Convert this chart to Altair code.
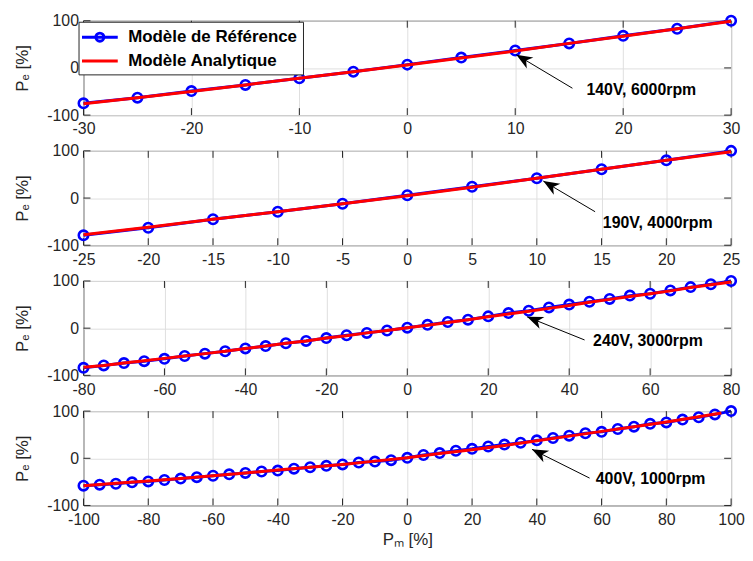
import math
import altair as alt
import pandas as pd

BLUE = "#0000FF"
RED = "#FF0000"
INK = "#262626"
GRID = "#DFDFDF"
FONT = "Liberation Sans"
REF = "Modèle de Référence"
ANA = "Modèle Analytique"

W, H = 652, 95
TICK_PX = 7
Y_DOMAIN = [-100, 100]
y_ticks = [-100, 0, 100]

# ---- Panel 1 : 140V, 6000rpm
p1_domain = [-30, 30]
p1_ticks = [-30, -20, -10, 0, 10, 20, 30]
p1_x = [-30, -25, -20, -15, -10, -5, 0, 5, 10, 15, 20, 25, 30]
p1_ref = [-75, -63, -49, -36, -22, -8, 7, 22, 37, 52, 68, 83, 100]
p1_ana_x = [-30, -25, -20, -15, -10, -5, 0, 5, 10, 15, 20, 25, 30]
p1_ana = [-76, -63, -50, -36, -22, -8, 6, 21, 36, 52, 67, 83, 99]

# ---- Panel 2 : 190V, 4000rpm
p2_domain = [-25, 25]
p2_ticks = [-25, -20, -15, -10, -5, 0, 5, 10, 15, 20, 25]
p2_x = [-25, -20, -15, -10, -5, 0, 5, 10, 15, 20, 25]
p2_ref = [-79, -63, -45, -29, -12, 6, 24, 42, 61, 80, 100]
p2_ana_x = [-25, -20, -15, -10, -5, 0, 5, 10, 15, 20, 25]
p2_ana = [-78, -62, -45, -29, -12, 5, 23, 42, 61, 80, 98]

# ---- Panel 3 : 240V, 3000rpm
p3_domain = [-80, 80]
p3_ticks = [-80, -60, -40, -20, 0, 20, 40, 60, 80]
p3_x = [-80, -75, -70, -65, -60, -55, -50, -45, -40, -35, -30, -25, -20, -15, -10, -5,
        0, 5, 10, 15, 20, 25, 30, 35, 40, 45, 50, 55, 60, 65, 70, 75, 80]
p3_ref = [-84, -79, -74, -70, -65, -59, -54, -49, -43, -38, -32, -27, -21, -15, -10, -5,
          1, 7, 13, 18, 25, 32, 37, 44, 50, 56, 62, 69, 73, 80, 87, 93, 100]
p3_ana_x = [-80, -75, -70, -65, -60, -55, -50, -45, -40, -35, -30, -25, -20, -15, -10, -5,
            0, 5, 10, 15, 20, 25, 30, 35, 40, 45, 50, 55, 60, 65, 70, 75, 80]
p3_ana = [-83, -79, -74, -69, -64, -59, -54, -49, -43, -38, -32, -27, -21, -16, -10, -5,
          1, 6, 12, 18, 24, 30, 36, 42, 48, 55, 61, 67, 73, 79, 86, 92, 98]

# ---- Panel 4 : 400V, 1000rpm
p4_domain = [-100, 100]
p4_ticks = [-100, -80, -60, -40, -20, 0, 20, 40, 60, 80, 100]
p4_x = [-100, -95, -90, -85, -80, -75, -70, -65, -60, -55, -50, -45, -40, -35, -30, -25,
        -20, -15, -10, -5, 0, 5, 10, 15, 20, 25, 30, 35, 40, 45, 50, 55, 60, 65, 70, 75,
        80, 85, 90, 95, 100]
p4_ref = [-58, -56, -54, -51, -49, -46, -43, -40, -37, -34, -31, -28, -26, -22, -19, -16,
          -13, -9, -7, -4, 1, 7, 11, 16, 20, 25, 29, 33, 38, 43, 48, 53, 56, 62, 67, 73,
          76, 82, 87, 93, 100]
p4_ana_x = [-100, -90, -80, -70, -60, -50, -40, -30, -20, -10, 0, 10, 20, 30, 40, 50, 60,
            70, 80, 90, 97]
p4_ana = [-58, -53, -48, -43, -37, -31, -25, -19, -13, -6, 1, 10, 18, 27, 37, 47, 57,
          67, 77, 88, 96]

# ---- Annotations
ann_labels = ["140V, 6000rpm", "190V, 4000rpm", "240V, 3000rpm", "400V, 1000rpm"]
ann_tip_x = [10.1, 10.5, 29.6, 38.5]
ann_tip_y = [28, 36, 24, 19]
ann_tail_x = [15.3, 14.5, 43.8, 56.3]
ann_tail_y = [-43, -29, -25, -42]
ann_text_x = [16.6, 15.1, 45.9, 58.2]
ann_text_y = [-47, -54, -27, -45]

ARROW_HEAD = "M0,0 L0.7,1.75 L0,1.25 L-0.7,1.75 Z"
LEG_REF = "M-2,0H2 M0.45,0A0.45,0.45 0 1,0 -0.45,0A0.45,0.45 0 1,0 0.45,0"
LEG_ANA = "M-2,0H2"


def tick_segments(domain, ticks):
    span = domain[1] - domain[0]
    dy = TICK_PX / H * (Y_DOMAIN[1] - Y_DOMAIN[0])
    dx = TICK_PX / W * span
    rows = []
    for t in ticks:
        rows.append((t, Y_DOMAIN[0], t, Y_DOMAIN[0] + dy))
        rows.append((t, Y_DOMAIN[1], t, Y_DOMAIN[1] - dy))
    for t in y_ticks:
        rows.append((domain[0], t, domain[0] + dx, t))
        rows.append((domain[1], t, domain[1] - dx, t))
    return pd.DataFrame(rows, columns=["x", "y", "x2", "y2"])


def panel(domain, ticks, rx, ry, ax, ay, i, legend=False, xtitle=None):
    ref = pd.DataFrame({"x": rx, "y": ry})
    ana = pd.DataFrame({"x": ax, "y": ay})
    span = domain[1] - domain[0]
    dxp = (ann_tip_x[i] - ann_tail_x[i]) / span * W
    dyp = -(ann_tip_y[i] - ann_tail_y[i]) / 200 * H
    ang = math.degrees(math.atan2(dxp, -dyp)) % 360
    ann = pd.DataFrame({
        "label": [ann_labels[i]],
        "tx": [ann_tip_x[i]], "ty": [ann_tip_y[i]],
        "sx": [ann_tail_x[i]], "sy": [ann_tail_y[i]],
        "lx": [ann_text_x[i]], "ly": [ann_text_y[i]],
        "angle": [ang],
    })

    xs = alt.Scale(domain=domain, nice=False, zero=False)
    ys = alt.Scale(domain=Y_DOMAIN, nice=False, zero=False)

    common_axis = dict(ticks=False, domain=False,
                       labelColor=INK, labelFont=FONT, labelFontSize=16,
                       labelExpr="'' + datum.value", grid=True, gridColor=GRID)
    x_axis = alt.Axis(values=ticks, orient="bottom", labelPadding=6, labelFlush=False,
                      title=xtitle, titleFont=FONT, titleFontSize=17,
                      titleFontWeight="normal", titleColor=INK, titlePadding=4,
                      **common_axis)
    y_axis = alt.Axis(values=y_ticks, orient="left", labelPadding=5, title="Pₑ [%]",
                      titleFont=FONT, titleFontSize=17, titleFontWeight="normal",
                      titleColor=INK, titlePadding=15, **common_axis)

    ref_line = alt.Chart(ref).mark_line(strokeWidth=3, color=BLUE).encode(
        x=alt.X("x:Q", scale=xs, axis=x_axis),
        y=alt.Y("y:Q", scale=ys, axis=y_axis),
    )
    ref_pts = alt.Chart(ref).mark_point(shape="circle", filled=False, size=90,
                                         strokeWidth=2.6, color=BLUE, opacity=1).encode(
        x=alt.X("x:Q", scale=xs, axis=None),
        y=alt.Y("y:Q", scale=ys, axis=None),
    )
    ana_line = alt.Chart(ana).mark_line(strokeWidth=3, color=RED).encode(
        x=alt.X("x:Q", scale=xs, axis=None),
        y=alt.Y("y:Q", scale=ys, axis=None),
    )
    tick_marks = alt.Chart(tick_segments(domain, ticks)).mark_rule(
        color=INK, strokeWidth=1).encode(
        x=alt.X("x:Q", scale=xs, axis=None),
        y=alt.Y("y:Q", scale=ys, axis=None),
        x2="x2:Q", y2="y2:Q",
    )
    arrow = alt.Chart(ann).mark_rule(color="black", strokeWidth=1).encode(
        x=alt.X("sx:Q", scale=xs, axis=None),
        y=alt.Y("sy:Q", scale=ys, axis=None),
        x2="tx:Q", y2="ty:Q",
    )
    head = alt.Chart(ann).mark_point(shape=ARROW_HEAD, filled=True, color="black",
                                     size=340, opacity=1).encode(
        x=alt.X("tx:Q", scale=xs, axis=None),
        y=alt.Y("ty:Q", scale=ys, axis=None),
        angle=alt.Angle("angle:Q", scale=None),
    )
    text = alt.Chart(ann).mark_text(align="left", baseline="middle", font=FONT,
                                    fontSize=16, fontWeight="bold", color="black").encode(
        x=alt.X("lx:Q", scale=xs, axis=None),
        y=alt.Y("ly:Q", scale=ys, axis=None),
        text="label:N",
    )
    layers = [ref_line, tick_marks, ref_pts, ana_line, arrow, head, text]

    if legend:
        leg = alt.Legend(
            orient="none", legendX=-5, legendY=1, title=None,
            fillColor="white", strokeColor=INK, padding=5,
            labelFont=FONT, labelFontSize=17, labelFontWeight="bold", labelColor="black",
            labelLimit=400,
            symbolSize=324, symbolStrokeWidth=3, symbolOffset=6, labelOffset=18,
            rowPadding=3, symbolFillColor="transparent", symbolOpacity=1,
        )
        # off-domain rows, clipped away: they only feed the legend
        dummy = pd.DataFrame({"x": [domain[0] - 1000, domain[0] - 1000],
                              "y": [0, 0], "model": [REF, ANA]})
        key = alt.Chart(dummy).mark_point(filled=False, strokeWidth=3, size=324,
                                          clip=True).encode(
            x=alt.X("x:Q", scale=xs, axis=None),
            y=alt.Y("y:Q", scale=ys, axis=None),
            color=alt.Color("model:N",
                            scale=alt.Scale(domain=[REF, ANA], range=[BLUE, RED]),
                            legend=leg),
            shape=alt.Shape("model:N",
                            scale=alt.Scale(domain=[REF, ANA], range=[LEG_REF, LEG_ANA]),
                            legend=leg),
        )
        layers.append(key)

    return alt.layer(*layers).resolve_axis(
        x="independent", y="independent"
    ).properties(width=W, height=H)


c1 = panel(p1_domain, p1_ticks, p1_x, p1_ref, p1_ana_x, p1_ana, 0, legend=True)
c2 = panel(p2_domain, p2_ticks, p2_x, p2_ref, p2_ana_x, p2_ana, 1)
c3 = panel(p3_domain, p3_ticks, p3_x, p3_ref, p3_ana_x, p3_ana, 2)
c4 = panel(p4_domain, p4_ticks, p4_x, p4_ref, p4_ana_x, p4_ana, 3, xtitle="Pₘ [%]")

chart = alt.vconcat(c1, c2, c3, c4, spacing=36, bounds="flush").configure_view(
    stroke=INK, strokeWidth=1
).properties(
    padding={"left": 5, "top": 0, "right": 0, "bottom": 0},
    background="white",
)

chart.save("out.html", embed_options={"renderer": "svg", "actions": False})
